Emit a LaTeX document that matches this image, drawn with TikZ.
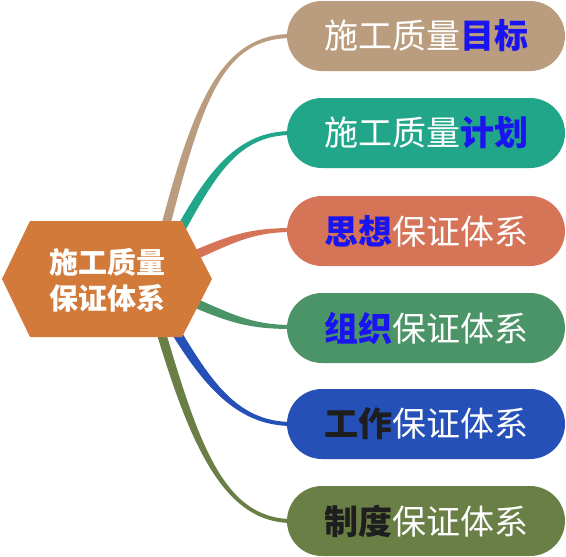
\documentclass[tikz,border=0pt]{standalone}
\usepackage{fontspec}
\newfontfamily\cjk{Noto Sans CJK SC}
\usetikzlibrary{calc}
\definecolor{cBeige}{HTML}{BA9D7E}
\definecolor{cTeal}{HTML}{22A68A}
\definecolor{cRed}{HTML}{D67458}
\definecolor{cGreen}{HTML}{4A9468}
\definecolor{cBlue}{HTML}{2450B8}
\definecolor{cOlive}{HTML}{6A7F46}
\definecolor{cHex}{HTML}{D27A3A}
\definecolor{cKey}{HTML}{1A14F0}
\definecolor{cDark}{HTML}{1E1E1E}
\newcommand\taperline[7]{%
  \fill[#1] ($(#2)+(#6)$) .. controls ($(#3)+(#6)$) and ($(#4)+(#7)$) .. ($(#5)+(#7)$)
    -- ($(#5)-(#7)$) .. controls ($(#4)-(#7)$) and ($(#3)-(#6)$) .. ($(#2)-(#6)$) -- cycle;}
\begin{document}
\begin{tikzpicture}[x=1pt,y=-1pt,
  branch/.style={rectangle,rounded corners=35pt,minimum width=278pt,minimum height=70pt,
    inner sep=0pt,text=white,font=\cjk\fontsize{34}{36}\selectfont},
  key/.style={text=cKey,font=\cjk\bfseries\fontsize{34}{36}\selectfont},
  keyd/.style={text=cDark,font=\cjk\bfseries\fontsize{34}{36}\selectfont}]
\useasboundingbox (0,0) rectangle (566,557);
% coordinates
\coordinate (s1) at (163,236); \coordinate (c11) at (198,100); \coordinate (c12) at (222,36); \coordinate (e1) at (292,36);
\coordinate (s2) at (176,238); \coordinate (c21) at (212,172); \coordinate (c22) at (238,133); \coordinate (e2) at (292,133);
\coordinate (s3) at (188,258); \coordinate (c31) at (230,240); \coordinate (c32) at (250,230); \coordinate (e3) at (292,230);
\coordinate (s4) at (188,300); \coordinate (c41) at (230,318); \coordinate (c42) at (250,327); \coordinate (e4) at (292,327);
\coordinate (s5) at (170,322); \coordinate (c51) at (205,380); \coordinate (c52) at (235,424); \coordinate (e5) at (292,424);
\coordinate (s6) at (158,322); \coordinate (c61) at (193,440); \coordinate (c62) at (222,521); \coordinate (e6) at (292,521);
% connectors
\taperline{cBeige}{s1}{c11}{c12}{e1}{-4.5,0}{0,-2}
\taperline{cTeal}{s2}{c21}{c22}{e2}{-3.8,-2.5}{0,-2}
\taperline{cRed}{s3}{c31}{c32}{e3}{0,-5}{0,-2}
\taperline{cGreen}{s4}{c41}{c42}{e4}{0,-5}{0,-2}
\taperline{cBlue}{s5}{c51}{c52}{e5}{4,-2.5}{0,-2}
\taperline{cOlive}{s6}{c61}{c62}{e6}{4.5,-1}{0,-2}
% hexagon
\fill[cHex] (2,279) -- (30,221) -- (182,221) -- (212,279) -- (182,337) -- (30,337) -- cycle;
\node[align=center,text=white,font=\cjk\bfseries\fontsize{29}{36}\selectfont] (hub) at (107,280) {施工质量\\保证体系};
% branches
\node[branch,fill=cBeige] (b1) at (426,36) {施工质量{\bfseries\color{cKey}目标}};
\node[branch,fill=cTeal] (b2) at (426,133) {施工质量{\bfseries\color{cKey}计划}};
\node[branch,fill=cRed] (b3) at (426,231) {{\bfseries\color{cKey}思想}保证体系};
\node[branch,fill=cGreen] (b4) at (426,328) {{\bfseries\color{cKey}组织}保证体系};
\node[branch,fill=cBlue] (b5) at (426,424) {{\bfseries\color{cDark}工作}保证体系};
\node[branch,fill=cOlive] (b6) at (426,521) {{\bfseries\color{cDark}制度}保证体系};
\end{tikzpicture}
\end{document}
